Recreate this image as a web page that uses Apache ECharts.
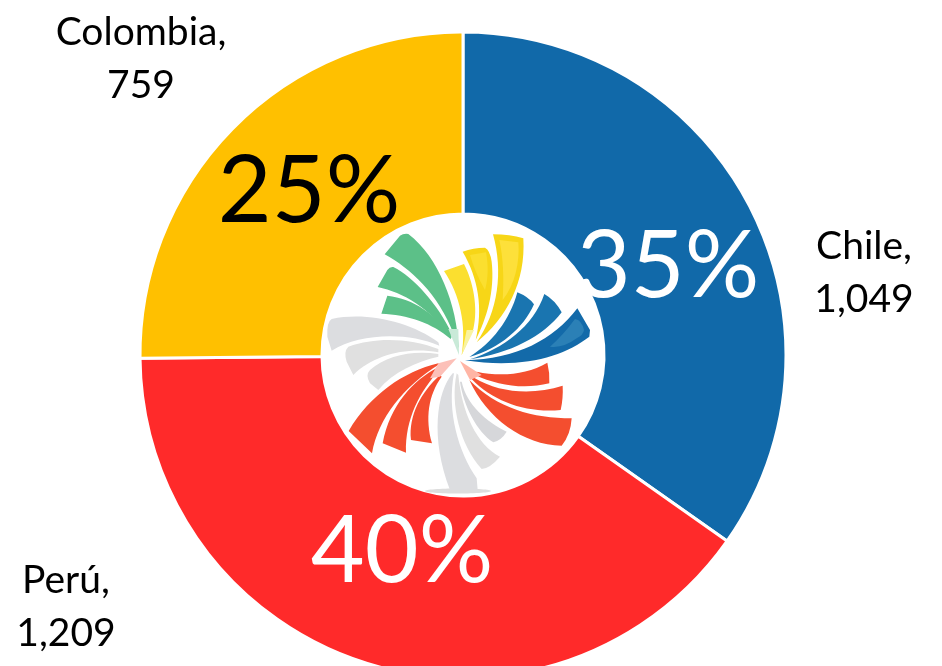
<!DOCTYPE html>
<html><head><meta charset="utf-8">
<style>html,body{margin:0;padding:0;background:#fff;overflow:hidden}#c{width:942px;height:666px}</style>
<script src="https://cdn.jsdelivr.net/npm/echarts@6/dist/echarts.min.js"></script>
</head><body><div id="c"></div>
<script>
const categories = ['Chile', 'Perú', 'Colombia'];
const values = [1049, 1209, 759];
const sliceColors = ['#1169a9', '#ff2a2a', '#ffc000'];
const percentColors = ['#ffffff', '#ffffff', '#000000'];
const percentSpots = [[668, 267], [402, 552], [309, 192]];
const nameSpots = [[864, 273], [66, 607], [141, 59]];

// Decorative emblem in the hole of the ring [fill, outline]
const emblem = [
 ['#5cc088','M446 430 C442 300 385 155 295 87 Q280 85 270 92 L224 148 C300 190 385 265 432 390Z'],
 ['#5cc088','M425 385 C385 300 310 215 250 186 Q240 184 232 195 L203 246 C280 262 360 310 420 395Z'],
 ['#5cc088','M425 395 C380 330 310 280 232 272 L214 326 C290 328 370 355 422 402Z'],
 ['#c9ead8','M415 372 L445 372 L447 450Z'],
 ['#fbdf2f','M402 198 L462 177 C490 230 505 310 490 372 L455 450 C470 360 450 270 402 198Z'],
 ['#f7d617','M458 140 Q490 128 525 128 Q540 135 545 170 C555 260 530 340 497 405 C520 310 505 220 458 140Z'],
 ['#fbdf2f','M480 150 L528 142 C535 180 535 220 525 255 C505 220 490 185 480 150Z'],
 ['#f7d617','M549 88 Q600 88 640 100 C648 230 590 340 500 412 C565 320 580 200 549 88Z'],
 ['#fde03a','M568 105 L625 112 C630 170 615 240 578 285 C582 220 580 160 568 105Z'],
 ['#f9f3a0','M470 375 L492 375 L455 450Z'],
 ['#1a75b0','M622 262 Q655 275 672 298 C640 370 570 430 478 456 C545 415 600 345 622 262Z'],
 ['#1a75b0','M703 267 Q735 285 755 322 C700 395 600 445 480 463 C580 430 670 365 703 267Z'],
 ['#136aa9','M802 310 L840 375 L838 395 C760 455 640 492 465 466 C620 462 730 405 802 310Z'],
 ['#2b80b6','M795 342 Q815 345 822 375 Q820 390 800 400 Q760 430 720 425 Q760 390 795 342Z'],
 ['#f44e2f','M500 500 C570 515 650 510 712 473 Q720 505 718 535 C640 555 560 540 495 510Z'],
 ['#f44e2f','M492 518 C570 565 670 570 758 542 Q760 580 752 615 C650 625 550 590 485 522Z'],
 ['#f44e2f','M478 525 C560 610 670 640 785 640 Q782 690 755 722 C640 720 530 640 478 525Z'],
 ['#ffb5a5','M450 468 L515 510 L480 525Z'],
 ['#dcdde0','M385 412 C300 350 170 320 65 342 Q50 350 52 395 L65 437 C150 385 290 380 388 422Z'],
 ['#e0e0e0','M385 432 C300 400 200 395 115 425 Q100 440 110 470 L130 510 C190 450 290 425 385 442Z'],
 ['#e0e0e0','M385 447 C310 435 230 450 180 495 Q165 510 180 535 L205 555 C250 500 320 470 385 455Z'],
 ['#f44e2f','M385 475 C280 500 180 570 116 678 L186 745 C205 640 280 545 388 478Z'],
 ['#f44e2f','M385 487 C310 525 240 600 218 715 L288 743 C285 640 330 560 388 495Z'],
 ['#f44e2f','M390 510 C335 560 295 630 303 705 L366 715 C345 640 355 570 395 515Z'],
 ['#fcc0b8','M440 460 L385 475 L360 520 L390 515Z'],
 ['#dcdde0','M428 505 C380 560 360 700 420 855 L503 855 L500 820 C445 740 410 620 432 505Z'],
 ['#e0e0e0','M440 505 C420 600 450 720 515 792 Q540 790 570 755 C500 720 455 620 445 510Z'],
 ['#d6d7da','M450 530 C460 600 500 680 550 712 Q575 705 590 680 C530 650 470 600 455 530Z']
];

const pieData = categories.map((name, i) => ({
  name, value: values[i],
  itemStyle: { color: sliceColors[i] },
  label: { color: percentColors[i] }
}));
const hiddenData = categories.map((name, i) => ({ name, value: values[i] }));
const spotLayout = spots => p => ({
  x: spots[p.dataIndex][0], y: spots[p.dataIndex][1], align: 'center', verticalAlign: 'middle'
});
const font = 'Lato';

const chart = echarts.init(document.getElementById('c'), null, { renderer: 'canvas' });
chart.setOption({
  animation: false,
  backgroundColor: '#ffffff',
  graphic: [{
    type: 'ellipse', z: 6, shape: { cx: 458, cy: 491, rx: 33, ry: 2.5 }, style: { fill: '#cfcfcf', opacity: 0.7 }
  }],
  series: [{
    type: 'pie', center: [463, 355], radius: [141, 323], startAngle: 90, clockwise: true,
    percentPrecision: 0, data: pieData, silent: true,
    itemStyle: { borderColor: '#fff', borderWidth: 3 },
    labelLine: { show: false },
    label: { show: true, position: 'inside', formatter: '{d}%', fontFamily: font, fontSize: 93 },
    labelLayout: spotLayout(percentSpots)
  }, {
    type: 'pie', center: [463, 355], radius: [141, 323], startAngle: 90, clockwise: true,
    data: hiddenData, silent: true,
    itemStyle: { color: 'rgba(0,0,0,0)', borderWidth: 0 },
    labelLine: { show: false },
    label: {
      show: true, position: 'outside', color: '#000', fontFamily: font, fontSize: 39, lineHeight: 53,
      align: 'center',
      formatter: p => p.name + ',\n' + p.value.toLocaleString('en-US')
    },
    labelLayout: spotLayout(nameSpots)
  }, {
    type: 'custom', coordinateSystem: 'none', silent: true, z: 10,
    data: emblem.map((_, i) => i),
    renderItem: (params) => {
      const [fill, d] = emblem[params.dataIndex];
      return {
        type: 'path', x: 310, y: 205, scaleX: 1 / 3, scaleY: 1 / 3,
        shape: { pathData: d }, style: { fill }
      };
    }
  }]
});
</script></body></html>
